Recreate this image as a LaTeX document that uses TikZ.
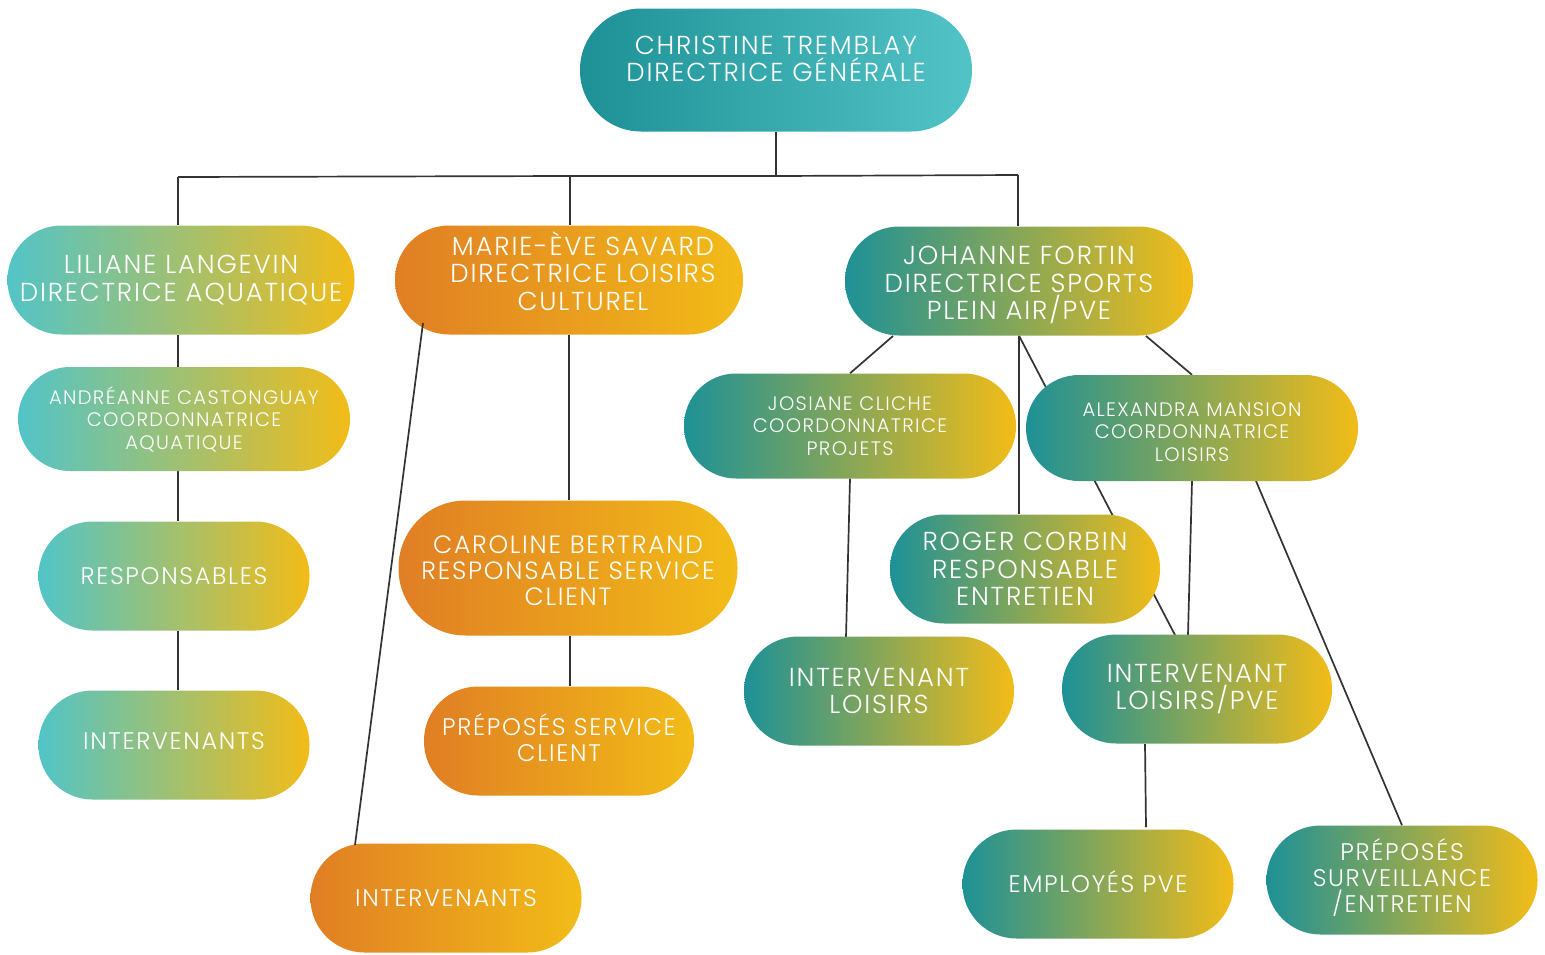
\documentclass[tikz,border=0pt]{standalone}
\usepackage{fontspec}
\IfFontExistsTF{Poppins Light}{\setmainfont{Poppins Light}[LetterSpace=7]}{\setmainfont{Poppins}[LetterSpace=7]}
\usetikzlibrary{backgrounds}
\definecolor{cteal}{HTML}{1E9196}
\definecolor{ccyan}{HTML}{52C4C7}
\definecolor{cyel}{HTML}{F2BC18}
\definecolor{corg}{HTML}{E07E24}
\definecolor{cline}{HTML}{333333}
\newcommand\shiftedtext[2]{\raisebox{#1}[\height][\depth]{\vbox{\let\\\cr\halign{\hfil##\hfil\cr#2\crcr}}}}
\tikzset{
  pill/.style={rectangle, draw=none, text=white, align=center, inner sep=0pt},
  tealY/.style={pill, left color=cteal, right color=cyel},
  cyanY/.style={pill, left color=ccyan, right color=cyel},
  orgY/.style={pill, left color=corg, right color=cyel},
  topC/.style={pill, left color=cteal, right color=ccyan},
  conn/.style={draw=cline, line width=1.7pt},
  fbig/.style={font=\fontsize{26}{27.5}\selectfont},
  fcar/.style={font=\fontsize{25}{26}\selectfont},
  fmid/.style={font=\fontsize{24}{26}\selectfont},
  fsma/.style={font=\fontsize{19.5}{22.5}\selectfont},
}
\begin{document}
\setlength{\lineskiplimit}{-20pt}%
\begin{tikzpicture}[x=1pt,y=-1pt]
\useasboundingbox (0,0) rectangle (1545,954);
% nodes
\node[topC, fbig, minimum width=392pt, minimum height=123pt, rounded corners=61pt] (ct) at (776,70) {\shiftedtext{11pt}{CHRISTINE TREMBLAY\\DIRECTRICE GÉNÉRALE}};
\node[cyanY, fbig, minimum width=347pt, minimum height=109pt, rounded corners=54pt] (lil) at (181,280) {LILIANE LANGEVIN\\DIRECTRICE AQUATIQUE};
\node[cyanY, fsma, minimum width=332pt, minimum height=104pt, rounded corners=52pt] (and) at (184,419) {ANDRÉANNE CASTONGUAY\\COORDONNATRICE\\AQUATIQUE};
\node[cyanY, fmid, minimum width=271pt, minimum height=109pt, rounded corners=54pt] (res) at (174,576) {RESPONSABLES};
\node[cyanY, fmid, minimum width=271pt, minimum height=109pt, rounded corners=54pt] (int1) at (174,745) {\shiftedtext{4pt}{INTERVENANTS}};
\node[orgY, fbig, minimum width=348pt, minimum height=109pt, rounded corners=54pt] (mar) at (569,280) {\hspace*{28pt}\shiftedtext{9pt}{MARIE-ÈVE SAVARD\\DIRECTRICE LOISIRS\\CULTUREL}};
\node[orgY, fcar, minimum width=339pt, minimum height=135pt, rounded corners=67pt] (car) at (568,568) {\shiftedtext{-3pt}{CAROLINE BERTRAND\\RESPONSABLE SERVICE\\CLIENT}};
\node[orgY, fmid, minimum width=270pt, minimum height=109pt, rounded corners=54pt] (pre) at (559,741) {\shiftedtext{3pt}{PRÉPOSÉS SERVICE\\CLIENT}};
\node[orgY, fmid, minimum width=271pt, minimum height=109pt, rounded corners=54pt] (int2) at (446,898) {INTERVENANTS};
\node[tealY, fbig, minimum width=348pt, minimum height=109pt, rounded corners=54pt] (joh) at (1019,281) {\shiftedtext{-4pt}{JOHANNE FORTIN\\DIRECTRICE SPORTS\\PLEIN AIR/PVE}};
\node[tealY, fsma, minimum width=332pt, minimum height=105pt, rounded corners=52pt] (jos) at (850,426) {JOSIANE CLICHE\\COORDONNATRICE\\PROJETS};
\node[tealY, fsma, minimum width=332pt, minimum height=106pt, rounded corners=53pt] (ale) at (1192,428) {\shiftedtext{-4pt}{ALEXANDRA MANSION\\COORDONNATRICE\\LOISIRS}};
\node[tealY, fbig, minimum width=270pt, minimum height=109pt, rounded corners=54pt] (rog) at (1025,569) {ROGER CORBIN\\RESPONSABLE\\ENTRETIEN};
\node[tealY, fbig, minimum width=270pt, minimum height=109pt, rounded corners=54pt] (il) at (879,691) {INTERVENANT\\LOISIRS};
\node[tealY, fbig, minimum width=270pt, minimum height=109pt, rounded corners=54pt] (ilp) at (1197,689) {INTERVENANT\\LOISIRS/PVE};
\node[tealY, fmid, minimum width=271pt, minimum height=109pt, rounded corners=54pt] (emp) at (1098,884) {\shiftedtext{2pt}{EMPLOYÉS PVE}};
\node[tealY, fmid, minimum width=271pt, minimum height=109pt, rounded corners=54pt] (pss) at (1402,880) {\shiftedtext{2pt}{PRÉPOSÉS\\SURVEILLANCE\\/ENTRETIEN}};
% coordinates
\coordinate (hC) at (776,176);
\coordinate (hL) at (178,177);
\coordinate (hM) at (570,176);
\coordinate (hR) at (1018,175);
\coordinate (m1) at (423,323);
\coordinate (m2) at (355,845);
\coordinate (j1) at (893,336);
\coordinate (j2) at (1146,336);
\coordinate (j3) at (1175,635);
\coordinate (a1) at (1188,635);
\coordinate (a2) at (1256,481);
\coordinate (s1) at (846,637);
\coordinate (e1) at (1146,827);
\coordinate (e0) at (1145,744);
\begin{scope}[on background layer]
\draw[conn] (ct.south) -- (hC);
\draw[conn] (hL) -- (hM) -- (hC) -- (hR);
\draw[conn] (hL) -- (hL |- lil.north);
\draw[conn] (hM) -- (hM |- mar.north);
\draw[conn] (hR) -- (hR |- joh.north);
\draw[conn] (hL |- lil.south) -- (hL |- and.north);
\draw[conn] (hL |- and.south) -- (hL |- res.north);
\draw[conn] (hL |- res.south) -- (hL |- int1.north);
\draw[conn] (mar.south) -- (mar.south |- car.north);
\draw[conn] ([xshift=2pt]car.south) -- ([xshift=2pt]car.south |- pre.north);
\draw[conn] (j1) -- (jos.north);
\draw[conn] (j2) -- (ale.north);
\draw[conn] (joh.south) -- (joh.south |- rog.north);
\draw[conn] (joh.south) -- (j3);
\draw[conn] (ale.south) -- (a1);
\draw[conn] (a2) -- (pss.north);
\draw[conn] (jos.south) -- (s1);
\draw[conn] (e0) -- (e1);
\end{scope}
\draw[conn] (m1) -- (m2);
\end{tikzpicture}
\end{document}
